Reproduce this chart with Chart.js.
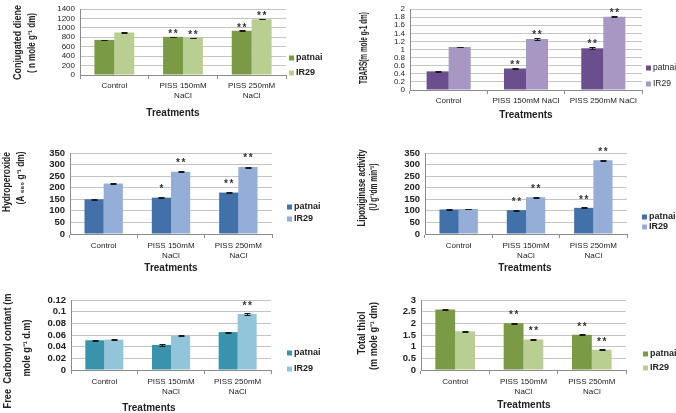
<!DOCTYPE html>
<html><head><meta charset="utf-8">
<script src="https://cdn.jsdelivr.net/npm/chart.js@4.4.1/dist/chart.umd.min.js"></script>
<style>
html,body{margin:0;padding:0;background:#fff;}
body{width:676px;height:413px;position:relative;overflow:hidden;}
canvas{position:absolute;}
</style></head><body>
<canvas id="p1"></canvas><canvas id="p2"></canvas><canvas id="p3"></canvas>
<canvas id="p4"></canvas><canvas id="p5"></canvas><canvas id="p6"></canvas>
<script>
// ---------- data ----------
const treatments = ["Control", "PISS 150mM NaCl", "PISS 250mM NaCl"];
const treatmentsWrapped = [["Control"], ["PISS 150mM", "NaCl"], ["PISS 250mM", "NaCl"]];
const series = ["patnai", "IR29"];
const xTitle = "Treatments";

// Conjugated diene
const dieneTicks = [0, 200, 400, 600, 800, 1000, 1200, 1400];
const dienePatnai = [745, 810, 940];
const dieneIR29 = [900, 790, 1185];
const dienePatnaiErr = [5, 6, 6];
const dieneIR29Err = [5, 5, 5];
const dienePatnaiSig = ["", "**", "**"];
const dieneIR29Sig = ["", "**", "**"];

// TBARS
const tbarsTicks = [0, 0.2, 0.4, 0.6, 0.8, 1, 1.2, 1.4, 1.6, 1.8, 2];
const tbarsPatnai = [0.46, 0.53, 1.03];
const tbarsIR29 = [1.06, 1.26, 1.81];
const tbarsPatnaiErr = [0.01, 0.02, 0.02];
const tbarsIR29Err = [0.01, 0.03, 0.01];
const tbarsPatnaiSig = ["", "**", "**"];
const tbarsIR29Sig = ["", "**", "**"];

// Hydroperoxide
const hydroTicks = [0, 50, 100, 150, 200, 250, 300, 350];
const hydroPatnai = [150, 157, 179];
const hydroIR29 = [218, 269, 289];
const hydroPatnaiErr = [2, 2, 2];
const hydroIR29Err = [2, 2, 2];
const hydroPatnaiSig = ["", "*", "**"];
const hydroIR29Sig = ["", "**", "**"];

// Lipoxiginase activity
const loxTicks = [0, 50, 100, 150, 200, 250, 300, 350];
const loxPatnai = [106, 103, 113];
const loxIR29 = [108, 159, 319];
const loxPatnaiErr = [2, 2, 2];
const loxIR29Err = [2, 2, 2];
const loxPatnaiSig = ["", "**", "**"];
const loxIR29Sig = ["", "**", "**"];

// Free carbonyl content
const carbonylTicks = [0, 0.02, 0.04, 0.06, 0.08, 0.1, 0.12];
const carbonylPatnai = [0.051, 0.043, 0.065];
const carbonylIR29 = [0.052, 0.059, 0.096];
const carbonylPatnaiErr = [0.001, 0.0012, 0.001];
const carbonylIR29Err = [0.0005, 0.0015, 0.002];
const carbonylPatnaiSig = ["", "", ""];
const carbonylIR29Sig = ["", "", "**"];

// Total thiol
const thiolTicks = [0, 0.5, 1, 1.5, 2, 2.5, 3];
const thiolPatnai = [2.59, 2.0, 1.51];
const thiolIR29 = [1.66, 1.31, 0.87];
const thiolPatnaiErr = [0.02, 0.02, 0.02];
const thiolIR29Err = [0.02, 0.02, 0.02];
const thiolPatnaiSig = ["", "**", "**"];
const thiolIR29Sig = ["", "**", "**"];

// ---------- styling / layout ----------
const GREEN = ["#7b9a45", "#b9cf91"];
const PURPLE = ["#6a4e8e", "#a797c3"];
const BLUE = ["#4270a8", "#94aed7"];
const TEAL = ["#3a93ad", "#93c5da"];
const FONT = "'Liberation Sans', Arial, sans-serif";

const panels = {
  p1: { box:[0,0,340,140], plot:[80,286,5,75], ticks:dieneTicks, labels:treatmentsWrapped,
        a:dienePatnai, b:dieneIR29, err:[dienePatnaiErr, dieneIR29Err], sig:[dienePatnaiSig, dieneIR29Sig],
        colors:GREEN, cat:0.58, tickBold:false, tickSize:8, xpad:1,
        legend:{x:289, y:[58,73], bold:true, size:9},
        xt:{x:173, y:113},
        yt:[{t:"Conjugated diene", x:18, y:42.5, len:75}, {t:"( n mole g⁻¹ dm)", x:32, y:43, len:60}],
        gap:5 },
  p2: { box:[340,0,336,140], plot:[410,642,5,90], ticks:tbarsTicks, labels:treatments,
        a:tbarsPatnai, b:tbarsIR29, err:[tbarsPatnaiErr, tbarsIR29Err], sig:[tbarsPatnaiSig, tbarsIR29Sig],
        colors:PURPLE, cat:0.57, tickBold:false, tickSize:8, xpad:1,
        legend:{x:646, y:[68,84], bold:false, size:8.5},
        xt:{x:526, y:115},
        yt:[{t:"TBARS(m mole g-1 dm)", x:364, y:48, len:72}],
        gap:5.5 },
  p3: { box:[0,140,340,140], plot:[70,272,153,234], ticks:hydroTicks, labels:treatmentsWrapped,
        a:hydroPatnai, b:hydroIR29, err:[hydroPatnaiErr, hydroIR29Err], sig:[hydroPatnaiSig, hydroIR29Sig],
        colors:BLUE, cat:0.57, tickBold:true, tickSize:9.5, xpad:2,
        legend:{x:287, y:[207,219], bold:true, size:9},
        xt:{x:171, y:268},
        yt:[{t:"Hydroperoxide", x:7, y:182, len:60}, {t:"(A ₅₆₀ g⁻¹ dm)", x:21, y:178, len:53}],
        gap:11 },
  p4: { box:[340,140,336,140], plot:[425,627,153,234], ticks:loxTicks, labels:treatmentsWrapped,
        a:loxPatnai, b:loxIR29, err:[loxPatnaiErr, loxIR29Err], sig:[loxPatnaiSig, loxIR29Sig],
        colors:BLUE, cat:0.57, tickBold:true, tickSize:9.5, xpad:2,
        legend:{x:642, y:[217,227], bold:true, size:9},
        xt:{x:525, y:268},
        yt:[{t:"Lipoxiginase activity", x:362, y:188, len:77}, {t:"(U g⁻¹dm min⁻¹)", x:374, y:187, len:47}],
        gap:10 },
  p5: { box:[0,280,340,133], plot:[71,271,300,370], ticks:carbonylTicks, labels:treatmentsWrapped,
        a:carbonylPatnai, b:carbonylIR29, err:[carbonylPatnaiErr, carbonylIR29Err], sig:[carbonylPatnaiSig, carbonylIR29Sig],
        colors:TEAL, cat:0.57, tickBold:true, tickSize:9.5, xpad:2,
        legend:{x:287, y:[353,369], bold:true, size:9},
        xt:{x:149, y:408},
        yt:[{t:"Free  Carbonyl contant (m", x:8, y:351, len:115}, {t:"mole g⁻¹ d.m)", x:27, y:348, len:57}],
        gap:9.5 },
  p6: { box:[340,280,336,133], plot:[421,626,300,370], ticks:thiolTicks, labels:treatmentsWrapped,
        a:thiolPatnai, b:thiolIR29, err:[thiolPatnaiErr, thiolIR29Err], sig:[thiolPatnaiSig, thiolIR29Sig],
        colors:GREEN, cat:0.58, tickBold:true, tickSize:9.5, xpad:2,
        legend:{x:643, y:[354,368], bold:true, size:9},
        xt:{x:524, y:405},
        yt:[{t:"Total thiol", x:362, y:333, len:43}, {t:"(m mole g⁻¹ dm)", x:374, y:336, len:68}],
        gap:10 }
};

const decor = {
  id: 'decor',
  afterDatasetsDraw(chart) {
    const P = panels[chart.canvas.id];
    const ctx = chart.ctx, y = chart.scales.y;
    ctx.save();
    chart.data.datasets.forEach((ds, i) => {
      const meta = chart.getDatasetMeta(i);
      meta.data.forEach((bar, j) => {
        const v = ds.data[j], e = P.err[i][j];
        const yt = Math.round(y.getPixelForValue(v + e)) + 0.5;
        const yb = Math.round(y.getPixelForValue(v - e)) + 0.5;
        const x = Math.round(bar.x) + 0.5;
        ctx.strokeStyle = '#1a1a1a'; ctx.lineWidth = 1;
        ctx.beginPath();
        ctx.moveTo(x, yt); ctx.lineTo(x, yb);
        ctx.moveTo(x - 3, yt); ctx.lineTo(x + 3, yt);
        ctx.moveTo(x - 3, yb); ctx.lineTo(x + 3, yb);
        ctx.stroke();
        const s = P.sig[i][j];
        if (s) {
          const fs = 10;
          ctx.font = 'bold ' + fs + 'px ' + FONT;
          ctx.fillStyle = '#333';
          ctx.textAlign = 'center'; ctx.textBaseline = 'alphabetic';
          const cy = y.getPixelForValue(v + e) - P.gap;
          const by = cy + 0.55 * fs;
          const n = s.length;
          for (let k = 0; k < n; k++) {
            ctx.fillText('*', bar.x + (k - (n - 1) / 2) * 5.5, by);
          }
        }
      });
    });
    ctx.restore();
  },
  afterDraw(chart) {
    const P = panels[chart.canvas.id];
    const ctx = chart.ctx, ox = P.box[0], oy = P.box[1];
    ctx.save();
    const L = P.legend;
    series.forEach((name, i) => {
      ctx.fillStyle = P.colors[i];
      ctx.fillRect(L.x - ox, L.y[i] - oy - 2.5, 5, 5);
      ctx.fillStyle = '#222';
      ctx.font = (L.bold ? 'bold ' : '') + L.size + 'px ' + FONT;
      ctx.textAlign = 'left'; ctx.textBaseline = 'middle';
      ctx.fillText(name, L.x - ox + 7, L.y[i] - oy);
    });
    ctx.fillStyle = '#222';
    ctx.font = 'bold 10px ' + FONT;
    ctx.textAlign = 'center'; ctx.textBaseline = 'middle';
    ctx.fillText(xTitle, P.xt.x - ox, P.xt.y - oy);
    P.yt.forEach(l => {
      ctx.save();
      ctx.translate(l.x - ox, l.y - oy);
      ctx.rotate(-Math.PI / 2);
      ctx.font = 'bold 10px ' + FONT;
      const w = ctx.measureText(l.t).width;
      ctx.scale(l.len / w, 1);
      ctx.fillStyle = '#222';
      ctx.textAlign = 'center'; ctx.textBaseline = 'middle';
      ctx.fillText(l.t, 0, 0);
      ctx.restore();
    });
    ctx.restore();
  }
};

function makePanel(id) {
  const P = panels[id];
  const cv = document.getElementById(id);
  const [bx, by, bw, bh] = P.box;
  cv.width = bw; cv.height = bh;
  cv.style.left = bx + 'px'; cv.style.top = by + 'px';
  cv.style.width = bw + 'px'; cv.style.height = bh + 'px';
  const left = P.plot[0] - bx, right = P.plot[1] - bx, top = P.plot[2] - by, bottom = P.plot[3] - by;
  const tks = P.ticks;
  new Chart(cv, {
    type: 'bar',
    data: {
      labels: P.labels,
      datasets: [
        { label: series[0], data: P.a, backgroundColor: P.colors[0], borderWidth: 0 },
        { label: series[1], data: P.b, backgroundColor: P.colors[1], borderWidth: 0 }
      ]
    },
    options: {
      responsive: false, animation: false, devicePixelRatio: 1,
      layout: { padding: { left: 0, top: top, right: bw - right, bottom: 0 } },
      plugins: { legend: { display: false }, tooltip: { enabled: false }, title: { display: false } },
      datasets: { bar: { barPercentage: 1, categoryPercentage: P.cat } },
      scales: {
        x: {
          offset: true,
          grid: { offset: true, drawOnChartArea: false, drawTicks: true, tickLength: 4, color: '#8c8c8c' },
          border: { display: true, color: '#8c8c8c' },
          ticks: { color: '#222', font: { family: FONT, size: 8, lineHeight: 1.35 }, padding: P.xpad,
                   maxRotation: 0, minRotation: 0, autoSkip: false },
          afterFit: s => { s.height = bh - bottom; }
        },
        y: {
          min: tks[0], max: tks[tks.length - 1],
          afterBuildTicks: s => { s.ticks = tks.map(v => ({ value: v })); },
          grid: { color: '#c4c4c4', drawTicks: false },
          border: { display: true, color: '#8c8c8c' },
          ticks: { color: '#222', padding: 5, autoSkip: false,
                   font: { family: FONT, size: P.tickSize, weight: P.tickBold ? 'bold' : 'normal', lineHeight: 1 },
                   callback: v => String(v) },
          afterFit: s => { s.width = left; }
        }
      }
    },
    plugins: [decor]
  });
}
Object.keys(panels).forEach(makePanel);
</script>
</body></html>
